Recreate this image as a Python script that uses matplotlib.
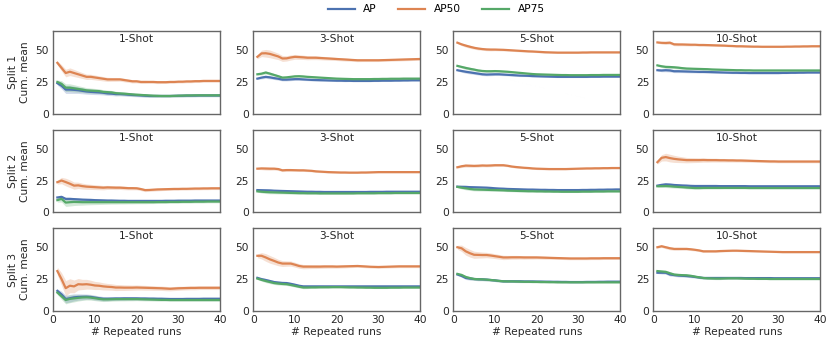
import matplotlib
matplotlib.use("Agg")
import matplotlib.pyplot as plt
import numpy as np

runs = list(range(1, 41))
splits = ["Split 1", "Split 2", "Split 3"]
shots = ["1-Shot", "3-Shot", "5-Shot", "10-Shot"]
metrics = ["AP", "AP50", "AP75"]

# ---- Split 1 ----
s1_1_ap = [24,22,19,19,18.8,18.5,18,17.5,17.2,17,16.8,16.5,16,15.8,15.5,15.5,15.3,15,14.8,14.6,14.4,14.2,14,14,14,14,14,14,14.1,14.2,14.2,14.3,14.3,14.3,14.4,14.4,14.4,14.4,14.4,14.4]
s1_1_ap50 = [40,36,32,33,32,31,30,29,29,28.5,28,27.5,27,27,27,27,26.5,26,25.5,25.5,25,25,25,25,24.8,24.8,24.8,25,25,25.2,25.2,25.4,25.4,25.6,25.6,25.8,25.8,25.8,25.8,25.8]
s1_1_ap75 = [25,23.5,20.5,20.5,20,19.5,19,18.4,18.2,18,17.8,17.2,17,16.8,16.2,16,15.8,15.5,15.2,15,14.8,14.6,14.4,14.2,14.1,14,14,14,14.1,14.2,14.3,14.4,14.4,14.5,14.5,14.5,14.5,14.5,14.5,14.5]

s1_3_ap = [27.6,28.4,29,28.6,28,27.5,26.8,26.8,27,27.2,27.2,27,26.8,26.6,26.5,26.4,26.3,26.2,26.1,26,26,25.9,25.9,25.8,25.8,25.8,25.8,25.8,25.9,25.9,26,26,26,26.1,26.1,26.2,26.2,26.3,26.3,26.3]
s1_3_ap50 = [44.7,47.4,47.5,47,46,45,43.4,43.5,44.2,44.7,44.5,44.3,44,44,44,43.8,43.6,43.4,43.2,43,42.8,42.6,42.4,42.2,42,42,42,42,42,42,42.1,42.2,42.3,42.4,42.5,42.6,42.7,42.8,42.9,43]
s1_3_ap75 = [31,31.5,32.4,31.5,30.5,29.5,28.4,28.6,29,29.4,29.5,29.3,29,28.8,28.6,28.4,28.2,28,27.8,27.6,27.5,27.4,27.3,27.2,27.2,27.2,27.2,27.2,27.3,27.3,27.4,27.4,27.5,27.5,27.5,27.6,27.6,27.6,27.6,27.6]

s1_5_ap = [34.2,33.6,33,32.5,32,31.5,31,30.8,30.9,31,31,30.8,30.6,30.4,30.2,30,29.9,29.8,29.6,29.5,29.4,29.3,29.2,29.1,29,29,29,29,29,29,29,29,29.1,29.1,29.1,29.2,29.2,29.2,29.2,29.2]
s1_5_ap50 = [55.8,54.5,53.5,52.6,51.8,51.2,50.8,50.5,50.4,50.4,50.3,50.2,50,49.8,49.6,49.4,49.2,49,48.9,48.7,48.5,48.3,48.2,48.1,48,48,48,48,48,48,48.1,48.1,48.2,48.2,48.2,48.2,48.2,48.2,48.2,48.2]
s1_5_ap75 = [37.6,36.8,36,35.3,34.7,34,33.6,33.4,33.4,33.5,33.4,33.2,33,32.7,32.4,32.1,31.8,31.5,31.2,31,30.9,30.8,30.7,30.6,30.5,30.4,30.4,30.3,30.3,30.3,30.3,30.3,30.4,30.4,30.4,30.5,30.5,30.5,30.5,30.5]

s1_10_ap = [34.2,34,34.2,34,33.4,33.4,33.3,33.2,33.1,33,32.9,32.9,32.8,32.7,32.6,32.5,32.4,32.3,32.2,32.2,32.1,32.1,32,32,32,32,32,32,32,32,32.1,32.1,32.2,32.2,32.3,32.3,32.4,32.4,32.4,32.4]
s1_10_ap50 = [56,55.7,55.6,55.8,54.5,54.4,54.4,54.3,54.2,54.2,54,54,53.9,53.8,53.7,53.6,53.5,53.3,53.2,53,53,52.9,52.8,52.7,52.7,52.6,52.6,52.6,52.6,52.6,52.6,52.7,52.7,52.8,52.8,52.9,52.9,53,53,53]
s1_10_ap75 = [38,37.3,36.8,36.7,36.5,36.2,35.8,35.5,35.4,35.3,35.2,35.1,35,34.8,34.7,34.6,34.5,34.4,34.3,34.2,34.2,34.1,34.1,34,34,34,34,34,34,34,34,34,34,34,34,34,34,34,34,34]

# ---- Split 2 ----
s2_1_ap = [11.7,12.2,10.6,10.6,10.4,10.2,10,9.9,9.8,9.6,9.5,9.4,9.3,9.3,9.2,9.1,9.1,9,9,9,9,9,9,9,9,9,9.1,9.1,9.1,9.2,9.2,9.2,9.2,9.3,9.3,9.3,9.3,9.3,9.3,9.3]
s2_1_ap50 = [23.7,25,23.8,22.5,21,21.2,20.6,20.2,20,19.8,19.6,19.4,19.6,19.5,19.4,19.4,19.2,19,19,18.9,18.3,17.5,17.6,17.8,18,18.1,18.2,18.3,18.4,18.4,18.5,18.5,18.6,18.7,18.7,18.8,18.8,18.9,18.9,18.9]
s2_1_ap75 = [9.6,10.6,7.7,8,8.2,8.1,8,8,8,8,8,8,8,8,8,8,8,8,8,8,8,8,8,8,8.1,8.1,8.1,8.2,8.2,8.2,8.3,8.3,8.3,8.4,8.4,8.4,8.5,8.5,8.5,8.5]

s2_3_ap = [17.5,17.4,17.3,17.2,17,16.9,16.8,16.7,16.6,16.5,16.4,16.3,16.2,16.2,16.1,16.1,16,16,16,16,16,16,16,16,16,16,16,16.1,16.1,16.1,16.1,16.2,16.2,16.2,16.2,16.2,16.2,16.2,16.2,16.2]
s2_3_ap50 = [34.3,34.5,34.4,34.3,34.3,34,33,33.2,33.2,33.1,33,33,32.8,32.6,32.2,32,31.8,31.6,31.5,31.4,31.3,31.3,31.2,31.2,31.2,31.3,31.3,31.4,31.5,31.6,31.6,31.6,31.6,31.6,31.6,31.6,31.6,31.6,31.6,31.6]
s2_3_ap75 = [16.5,16.2,16,15.8,15.7,15.6,15.5,15.4,15.3,15.2,15.1,15.1,15,15,15,14.9,14.9,14.9,14.9,14.9,14.9,14.9,14.9,14.9,15,15,15,15,15,15.1,15.1,15.1,15.1,15.2,15.2,15.2,15.2,15.2,15.2,15.2]

s2_5_ap = [20.2,20.1,20,19.8,19.7,19.6,19.5,19.4,19.2,18.9,18.7,18.6,18.4,18.3,18.2,18.1,18,17.9,17.9,17.8,17.7,17.7,17.6,17.6,17.5,17.5,17.5,17.5,17.5,17.5,17.6,17.6,17.7,17.7,17.8,17.8,17.9,17.9,18,18]
s2_5_ap50 = [35.4,36.2,36.7,36.6,36.5,36.6,36.8,36.7,36.8,37,37,37,36.6,36,35.6,35.3,35,34.8,34.5,34.3,34.2,34.1,34,34,34,34,34,34.1,34.2,34.3,34.4,34.5,34.5,34.6,34.6,34.7,34.7,34.8,34.8,34.8]
s2_5_ap75 = [20,19.4,18.9,18.4,18,17.9,17.8,17.7,17.6,17.5,17.4,17.3,17.1,17,16.9,16.8,16.7,16.6,16.6,16.5,16.5,16.4,16.4,16.3,16.3,16.2,16.2,16.2,16.2,16.2,16.3,16.3,16.3,16.4,16.4,16.4,16.5,16.5,16.5,16.5]

s2_10_ap = [21,21.6,22,21.8,21.5,21.3,21.1,21,20.8,20.7,20.7,20.7,20.7,20.7,20.7,20.6,20.6,20.6,20.6,20.6,20.6,20.6,20.5,20.5,20.5,20.5,20.5,20.5,20.5,20.5,20.5,20.5,20.5,20.5,20.5,20.5,20.5,20.5,20.5,20.5]
s2_10_ap50 = [39.4,42.8,43.4,42.6,42,41.6,41.3,41,41,41,41,41.1,41,41,41,40.9,40.9,40.8,40.8,40.7,40.7,40.6,40.5,40.4,40.3,40.2,40.1,40,40,39.9,39.9,39.9,39.9,39.9,39.9,39.9,39.9,39.9,39.9,39.9]
s2_10_ap75 = [20.5,20.6,20.7,20.5,20.2,20,19.8,19.5,19.3,19.1,19.1,19.2,19.2,19.2,19.2,19.2,19.2,19.2,19.2,19.2,19.2,19.2,19.1,19.1,19.1,19.1,19.1,19.1,19.1,19.1,19.1,19.1,19.1,19.1,19.1,19.1,19.1,19.1,19.1,19.1]

# ---- Split 3 ----
s3_1_ap = [15.8,13,9.4,10,10.7,11,11.1,11.2,11,10.5,10,9.6,9.6,9.7,9.8,9.8,9.9,9.9,9.9,9.9,9.8,9.8,9.7,9.7,9.6,9.6,9.5,9.4,9.4,9.4,9.4,9.5,9.5,9.5,9.5,9.6,9.6,9.6,9.6,9.6]
s3_1_ap50 = [31.3,25,17.9,19.8,19.3,21,20.8,21,20.6,20,19.8,19.3,19,18.8,18.4,18.4,18.3,18.3,18.3,18.4,18.3,18.2,18.1,18,17.9,17.8,17.6,17.4,17.6,17.8,17.9,18,18.1,18.1,18.2,18.2,18.2,18.2,18.2,18.2]
s3_1_ap75 = [14.4,11.5,8.6,9.5,9.9,10.3,10.6,10.7,10.5,10,9.5,9.1,9.1,9.2,9.3,9.3,9.3,9.3,9.3,9.3,9.2,9.1,9,8.9,8.8,8.7,8.7,8.6,8.6,8.6,8.6,8.6,8.6,8.6,8.6,8.6,8.6,8.6,8.6,8.6]

s3_3_ap = [26,25,24.3,23.5,22.7,22.3,22,21.9,21.3,20.6,19.8,19.3,19.3,19.3,19.3,19.3,19.3,19.3,19.3,19.3,19.3,19.3,19.3,19.3,19.3,19.3,19.3,19.3,19.3,19.3,19.3,19.3,19.3,19.3,19.3,19.3,19.3,19.3,19.3,19.3]
s3_3_ap50 = [43.3,43.3,42,40.5,39.3,38,37.2,37.2,37.2,36.3,35.3,34.8,34.8,34.8,34.8,34.8,34.9,34.9,34.9,34.8,34.9,35,35.1,35.2,35.3,35.1,34.9,34.7,34.6,34.5,34.6,34.7,34.8,34.9,35,35,35,35,35,35]
s3_3_ap75 = [25.4,24.4,23.5,22.7,21.9,21.5,21.2,21,20.4,19.7,19,18.4,18.4,18.5,18.5,18.6,18.6,18.6,18.7,18.7,18.7,18.6,18.5,18.5,18.4,18.4,18.3,18.3,18.2,18.2,18.2,18.2,18.3,18.3,18.3,18.4,18.4,18.4,18.4,18.4]

s3_5_ap = [28.6,27.5,25.9,25.4,25.1,24.9,24.8,24.6,24.3,24,23.6,23.3,23.3,23.3,23.3,23.3,23.2,23.2,23.2,23.1,23.1,23,23,22.9,22.9,22.8,22.8,22.7,22.7,22.7,22.7,22.8,22.8,22.8,22.9,22.9,23,23,23,23]
s3_5_ap50 = [50,49.2,46.8,45.3,44.1,44,43.9,43.9,43.5,43,42.5,42,42,42.1,42.1,42.1,42,42,42,42,41.9,41.8,41.7,41.6,41.5,41.4,41.3,41.2,41.2,41.2,41.2,41.2,41.3,41.3,41.3,41.4,41.4,41.4,41.4,41.4]
s3_5_ap75 = [29.1,28.3,26.7,25.8,25.1,24.9,24.8,24.6,24.3,24,23.6,23.3,23.2,23.2,23.1,23,22.9,22.9,22.8,22.8,22.7,22.7,22.6,22.6,22.5,22.5,22.5,22.5,22.5,22.5,22.5,22.5,22.5,22.5,22.5,22.5,22.5,22.5,22.5,22.5]

s3_10_ap = [30,30,30,28.6,28.2,27.8,27.6,27.4,27.1,26.7,26.3,25.9,25.9,25.9,25.9,25.9,25.9,25.9,25.9,25.9,25.9,25.8,25.8,25.8,25.8,25.8,25.8,25.8,25.7,25.7,25.7,25.7,25.7,25.7,25.7,25.7,25.7,25.7,25.7,25.7]
s3_10_ap50 = [50,50.8,50,49.2,48.7,48.7,48.7,48.7,48.4,48,47.5,46.8,46.8,46.8,46.8,47,47.1,47.2,47.3,47.3,47.2,47.1,47,46.9,46.8,46.7,46.6,46.5,46.4,46.3,46.2,46.2,46.2,46.2,46.2,46.2,46.2,46.2,46.2,46.2]
s3_10_ap75 = [31.3,31,30.7,29.6,28.6,28.3,28.1,28,27.6,27,26.4,25.9,25.6,25.5,25.4,25.4,25.5,25.6,25.6,25.6,25.5,25.4,25.3,25.3,25.2,25.2,25.2,25.1,25.1,25.1,25.1,25.1,25.1,25.1,25.1,25.1,25.1,25.1,25.1,25.1]

# ---- spread (half-width of shaded band), estimated ----
band_wide = [3,5,6,5.5,5,4.5,4,3.8,3.5,3.2,3,2.8,2.6,2.5,2.4,2.3,2.2,2.1,2,2,1.9,1.9,1.8,1.8,1.7,1.7,1.7,1.6,1.6,1.6,1.5,1.5,1.5,1.5,1.4,1.4,1.4,1.4,1.4,1.4]
band_mid = [1.5,2.5,3,3,2.8,2.5,2.3,2.1,2,1.9,1.8,1.7,1.6,1.5,1.5,1.4,1.4,1.3,1.3,1.2,1.2,1.2,1.1,1.1,1.1,1,1,1,1,1,1,1,1,1,1,1,1,1,1,1]
band_low = [0.6,1,1.2,1.2,1.1,1.1,1,1,1,0.9,0.9,0.9,0.8,0.8,0.8,0.8,0.7,0.7,0.7,0.7,0.7,0.7,0.6,0.6,0.6,0.6,0.6,0.6,0.6,0.6,0.6,0.6,0.6,0.6,0.6,0.6,0.6,0.6,0.6,0.6]

data = [
    [(s1_1_ap, s1_1_ap50, s1_1_ap75), (s1_3_ap, s1_3_ap50, s1_3_ap75),
     (s1_5_ap, s1_5_ap50, s1_5_ap75), (s1_10_ap, s1_10_ap50, s1_10_ap75)],
    [(s2_1_ap, s2_1_ap50, s2_1_ap75), (s2_3_ap, s2_3_ap50, s2_3_ap75),
     (s2_5_ap, s2_5_ap50, s2_5_ap75), (s2_10_ap, s2_10_ap50, s2_10_ap75)],
    [(s3_1_ap, s3_1_ap50, s3_1_ap75), (s3_3_ap, s3_3_ap50, s3_3_ap75),
     (s3_5_ap, s3_5_ap50, s3_5_ap75), (s3_10_ap, s3_10_ap50, s3_10_ap75)],
]
bands = [
    [(band_mid, band_mid, band_mid), (band_low, band_mid, band_low),
     (band_low, band_low, band_low), (band_low, band_low, band_low)],
    [(band_low, band_mid, band_mid), (band_low, band_low, band_low),
     (band_low, band_low, band_low), (band_low, band_mid, band_low)],
    [(band_mid, band_wide, band_mid), (band_low, band_mid, band_low),
     (band_low, band_mid, band_low), (band_low, band_low, band_low)],
]

colors = ["#4C72B0", "#DD8452", "#55A868"]

plt.rcParams["font.family"] = ["DejaVu Sans"]
FS = 7.7
fig, axes = plt.subplots(3, 4, figsize=(8.31, 3.44), dpi=100)
fig.subplots_adjust(left=0.064, right=0.987, top=0.91, bottom=0.096,
                    wspace=0.198, hspace=0.19)

x = np.array(runs)
for r in range(3):
    for c in range(4):
        ax = axes[r, c]
        for k in range(3):
            y = np.array(data[r][c][k])
            b = np.array(bands[r][c][k])
            ax.fill_between(x, y - b, y + b, color=colors[k], alpha=0.25, lw=0)
            ax.plot(x, y, color=colors[k], lw=1.6, label=metrics[k])
        ax.set_xlim(0, 40)
        ax.set_ylim(0, 65)
        ax.set_yticks([0, 25, 50])
        ax.set_xticks([0, 10, 20, 30, 40])
        ax.tick_params(length=0, labelsize=FS, colors="#262626", pad=3)
        for s in ax.spines.values():
            s.set_color("#666666")
            s.set_linewidth(1.0)
        ax.text(0.5, 0.96, shots[c], transform=ax.transAxes, ha="center",
                va="top", fontsize=FS, color="#262626")
        if r < 2:
            ax.set_xticklabels([])
        else:
            ax.set_xlabel("# Repeated runs", fontsize=FS, color="#262626", labelpad=1)
        if c == 0:
            ax.set_ylabel(splits[r] + "\nCum. mean", fontsize=FS, color="#262626",
                          labelpad=4, linespacing=1.3)

handles, labels = axes[0, 0].get_legend_handles_labels()
fig.legend(handles, labels, loc="upper center", ncol=3, frameon=False,
           bbox_to_anchor=(0.525, 1.015), fontsize=FS, handlelength=2.5,
           columnspacing=2.0, handletextpad=0.8)

fig.savefig("out.png", dpi=100)
